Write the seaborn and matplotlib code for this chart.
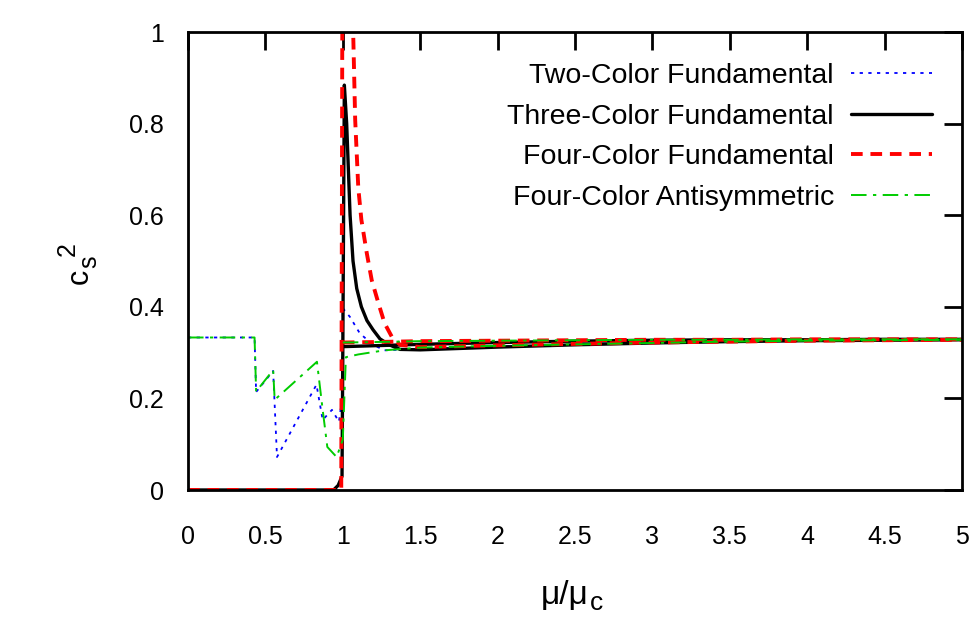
import numpy as np
import pandas as pd
import matplotlib
matplotlib.use('Agg')
import matplotlib.pyplot as plt
import seaborn as sns

# Two-Color Fundamental
two_x = [0, 0.43, 0.44, 0.55, 0.575, 0.83, 0.87, 0.93, 0.975, 0.995, 1.0, 1.046, 1.11, 1.195, 1.27,
         1.5, 2, 2.5, 3, 3.5, 4, 4.5, 5]
two_y = [0.333, 0.333, 0.214, 0.26, 0.072, 0.23, 0.153, 0.175, 0.149, 0.2, 0.397, 0.378, 0.342, 0.317, 0.305,
         0.308, 0.313, 0.317, 0.321, 0.324, 0.326, 0.327, 0.328]

# Three-Color Fundamental (spike branch, flat branch)
three_x = [0, 0.94, 0.97, 0.995, 1.0, 1.01, 1.025, 1.036, 1.047, 1.066, 1.09, 1.12, 1.156, 1.195,
           1.24, 1.3, 1.37, 1.5, 2, 2.5, 3, 3.5, 4, 4.5, 5]
three_y = [0, 0, 0.01, 0.03, 0.3, 0.884, 0.8, 0.7, 0.6, 0.5, 0.44, 0.4, 0.37, 0.35,
           0.33, 0.317, 0.307, 0.306, 0.312, 0.317, 0.321, 0.324, 0.326, 0.327, 0.328]
three_flat_x = [1.0, 1.2, 1.5, 2, 2.5, 3, 3.5, 4, 4.5, 5]
three_flat_y = [0.313, 0.315, 0.318, 0.322, 0.325, 0.327, 0.328, 0.328, 0.329, 0.329]

# Four-Color Fundamental
four_x = [0, 0.97, 0.99, 1.0, 1.06, 1.067, 1.08, 1.10, 1.12, 1.155, 1.187, 1.23, 1.27, 1.316, 1.37,
          1.5, 2, 2.5, 3, 3.5, 4, 4.5, 5]
four_y = [0, 0, 0.0, 1.5, 1.1, 1.0, 0.808, 0.66, 0.59, 0.517, 0.458, 0.408, 0.364, 0.335, 0.317,
          0.312, 0.316, 0.319, 0.322, 0.324, 0.326, 0.327, 0.328]
four_flat_x = [1.0, 1.2, 1.5, 2, 2.5, 3, 3.5, 4, 4.5, 5]
four_flat_y = [0.322, 0.323, 0.325, 0.326, 0.327, 0.328, 0.328, 0.329, 0.329, 0.329]

# Four-Color Antisymmetric
anti_x = [0, 0.43, 0.44, 0.55, 0.56, 0.833, 0.87, 0.90, 0.96, 1.0, 1.02, 1.1, 1.27,
          1.5, 2, 2.5, 3, 3.5, 4, 4.5, 5]
anti_y = [0.333, 0.333, 0.215, 0.262, 0.197, 0.28, 0.175, 0.094, 0.072, 0.11, 0.29, 0.296, 0.305,
          0.311, 0.315, 0.318, 0.321, 0.324, 0.326, 0.327, 0.328]
anti_flat_x = [1.0, 1.2, 1.5, 2, 2.5, 3, 3.5, 4, 4.5, 5]
anti_flat_y = [0.322, 0.323, 0.325, 0.326, 0.327, 0.328, 0.328, 0.329, 0.329, 0.329]

x_ticks = [0, 0.5, 1, 1.5, 2, 2.5, 3, 3.5, 4, 4.5, 5]
x_tick_labels = ['0', '0.5', '1', '1.5', '2', '2.5', '3', '3.5', '4', '4.5', '5']
y_ticks = [0, 0.2, 0.4, 0.6, 0.8, 1]
y_tick_labels = ['0', '0.2', '0.4', '0.6', '0.8', '1']


def make_df(segments):
    rows = []
    for k, (xs, ys) in enumerate(segments):
        for a, b in zip(xs, ys):
            rows.append({'x': a, 'y': b, 'seg': k})
    return pd.DataFrame(rows)


series = [
    ('Two-Color Fundamental', [(two_x, two_y)], dict(color='#0000ff', linestyle=(0, (1.8, 3)), lw=1.3)),
    ('Three-Color Fundamental', [(three_x, three_y), (three_flat_x, three_flat_y)],
     dict(color='black', linestyle='-', lw=2.4)),
    ('Four-Color Fundamental', [(four_x, four_y), (four_flat_x, four_flat_y)],
     dict(color='#ff0000', linestyle=(0, (3, 2)), lw=2.8)),
    ('Four-Color Antisymmetric', [(anti_x, anti_y), (anti_flat_x, anti_flat_y)],
     dict(color='#00cc00', linestyle=(0, (8, 3.3, 1.7, 3.3)), lw=1.4)),
]

sns.set_style('white')
plt.rcParams['font.family'] = ['Liberation Sans', 'DejaVu Sans']
plt.rcParams['text.color'] = 'black'

W, H = 973, 617
fig = plt.figure(figsize=(W / 100, H / 100), dpi=100)
ax = fig.add_axes([188 / W, 1 - 490 / H, (962 - 188) / W, (490 - 32) / H])

for name, segs, st in series:
    df = make_df(segs)
    sns.lineplot(data=df, x='x', y='y', units='seg', estimator=None, sort=False, ax=ax,
                 color=st['color'], linestyle=st['linestyle'], linewidth=st['lw'], label=name)

ax.set_xlim(0, 5)
ax.set_ylim(0, 1)
ax.set_xticks(x_ticks)
ax.set_xticklabels(x_tick_labels)
ax.set_yticks(y_ticks)
ax.set_yticklabels(y_tick_labels)
ax.tick_params(direction='in', length=13, width=2, top=True, right=True, labelsize=18,
               colors='black', labelcolor='black')
ax.tick_params(axis='x', pad=25)
ax.tick_params(axis='y', pad=17.5)
for sp in ax.spines.values():
    sp.set_linewidth(2)
    sp.set_color('black')
ax.set_xlabel('')
ax.set_ylabel('')

handles, labels = ax.get_legend_handles_labels()
seen = {}
for h, l in zip(handles, labels):
    if l not in seen:
        seen[l] = h
leg = ax.legend(list(seen.values()), list(seen.keys()), loc='upper right', frameon=False,
                markerfirst=False, fontsize=20.5, handlelength=2.85, handletextpad=0.6,
                labelspacing=0.51, bbox_to_anchor=(932 / W, 1 - 63 / H),
                bbox_transform=fig.transFigure, borderaxespad=0, borderpad=0, labelcolor='black')


def px(x, y):
    return x / W, 1 - y / H


# axis labels built from pieces (gnuplot-like sub/superscripts)
fig.canvas.draw()
r = fig.canvas.get_renderer()

t1 = fig.text(*px(541, 604), 'μ/μ', fontsize=24, ha='left', va='baseline')
ext = t1.get_window_extent(r)
fig.text(ext.x1 / W + 1 / W, px(0, 610)[1], 'c', fontsize=19, ha='left', va='baseline')

c = fig.text(*px(80, 276), 'c', fontsize=22, rotation=90, ha='center', va='center')
e = c.get_window_extent(r)
s = fig.text(*px(89, 0), 's', fontsize=18, rotation=90, ha='center', va='bottom')
s.set_y(e.y1 / H)
e2 = s.get_window_extent(r)
two = fig.text(*px(68, 0), '2', fontsize=18, rotation=90, ha='center', va='bottom')
two.set_y(e2.y1 / H)

fig.savefig('out.png', dpi=100)
